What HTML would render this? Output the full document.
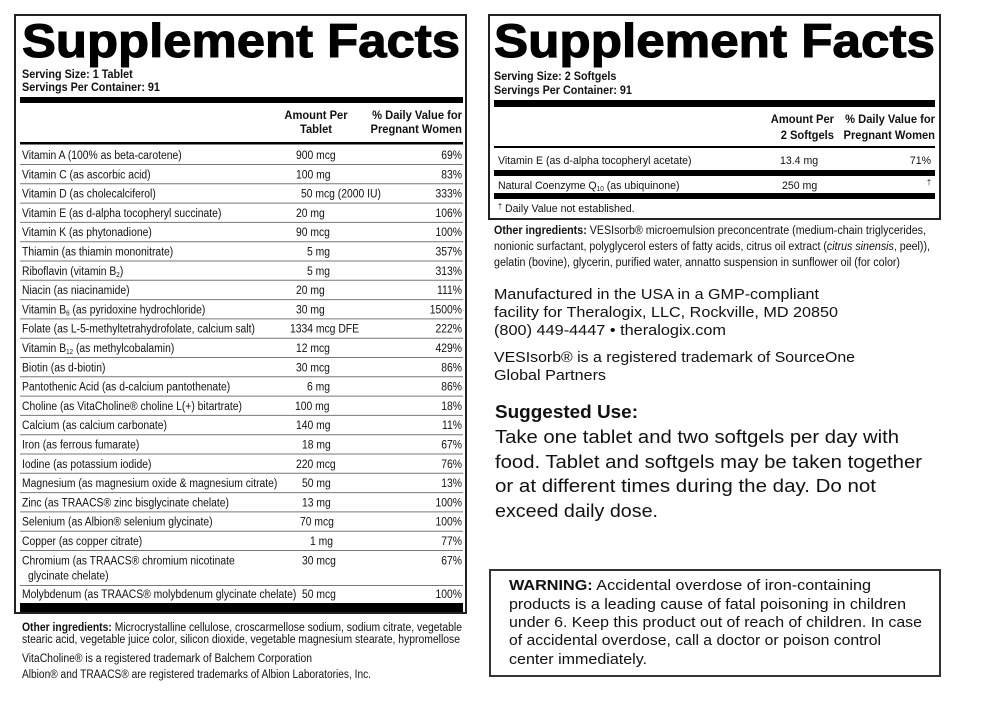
<!DOCTYPE html>
<html><head><meta charset="utf-8"><style>
html,body{margin:0;padding:0;background:#fff}
svg{display:block}
text{font-family:"Liberation Sans",sans-serif;fill:#111}
.r{font-size:11.5px}
.b{font-weight:bold}
.t{font-family:"Liberation Sans",sans-serif;font-weight:900;font-size:47px;fill:#000;stroke:#000;stroke-width:1.1}
.h{font-size:12px;font-weight:bold}
.av{font-family:"DejaVu Sans","Liberation Sans",sans-serif;fill:#1a1a1a}
.ln{stroke:#777;stroke-width:1}
</style></head><body>
<svg width="1000" height="709" viewBox="0 0 1000 709" xmlns="http://www.w3.org/2000/svg">
<rect x="15" y="15" width="451" height="598" fill="none" stroke="#222" stroke-width="2"/>
<text class="t" x="22" y="57" textLength="438" lengthAdjust="spacingAndGlyphs">Supplement Facts</text>
<text class="h" transform="translate(22,78) scale(.9,1)">Serving Size: 1 Tablet</text>
<text class="h" transform="translate(22,91) scale(.9,1)">Servings Per Container: 91</text>
<rect x="20" y="97" width="443" height="6" fill="#000"/>
<text class="h" transform="translate(316,119) scale(.93,1)" text-anchor="middle">Amount Per</text>
<text class="h" transform="translate(316,133) scale(.93,1)" text-anchor="middle">Tablet</text>
<text class="h" transform="translate(462,119) scale(.93,1)" text-anchor="end">% Daily Value for</text>
<text class="h" transform="translate(462,133) scale(.93,1)" text-anchor="end">Pregnant Women</text>
<rect x="20" y="142" width="443" height="2.5" fill="#000"/>
<g class="r">
<text transform="translate(22,159) scale(.9,1)">Vitamin A (100% as beta-carotene)</text><text transform="translate(296,159) scale(.9,1)">900 mcg</text><text transform="translate(462,159) scale(.9,1)" text-anchor="end">69%</text>
<text transform="translate(22,178.3) scale(.9,1)">Vitamin C (as ascorbic acid)</text><text transform="translate(296,178.3) scale(.9,1)">100 mg</text><text transform="translate(462,178.3) scale(.9,1)" text-anchor="end">83%</text>
<text transform="translate(22,197.6) scale(.9,1)">Vitamin D (as cholecalciferol)</text><text transform="translate(301,197.6) scale(.9,1)">50 mcg (2000 IU)</text><text transform="translate(462,197.6) scale(.9,1)" text-anchor="end">333%</text>
<text transform="translate(22,216.9) scale(.9,1)">Vitamin E (as d-alpha tocopheryl succinate)</text><text transform="translate(296,216.9) scale(.9,1)">20 mg</text><text transform="translate(462,216.9) scale(.9,1)" text-anchor="end">106%</text>
<text transform="translate(22,236.2) scale(.9,1)">Vitamin K (as phytonadione)</text><text transform="translate(296,236.2) scale(.9,1)">90 mcg</text><text transform="translate(462,236.2) scale(.9,1)" text-anchor="end">100%</text>
<text transform="translate(22,255.5) scale(.9,1)">Thiamin (as thiamin mononitrate)</text><text transform="translate(307,255.5) scale(.9,1)">5 mg</text><text transform="translate(462,255.5) scale(.9,1)" text-anchor="end">357%</text>
<text transform="translate(22,274.8) scale(.9,1)">Riboflavin (vitamin B<tspan font-size="7" dy="2">2</tspan><tspan dy="-2">)</tspan></text><text transform="translate(307,274.8) scale(.9,1)">5 mg</text><text transform="translate(462,274.8) scale(.9,1)" text-anchor="end">313%</text>
<text transform="translate(22,294.1) scale(.9,1)">Niacin (as niacinamide)</text><text transform="translate(296,294.1) scale(.9,1)">20 mg</text><text transform="translate(462,294.1) scale(.9,1)" text-anchor="end">111%</text>
<text transform="translate(22,313.4) scale(.9,1)">Vitamin B<tspan font-size="7" dy="2">6</tspan><tspan dy="-2"> (as pyridoxine hydrochloride)</tspan></text><text transform="translate(296,313.4) scale(.9,1)">30 mg</text><text transform="translate(462,313.4) scale(.9,1)" text-anchor="end">1500%</text>
<text transform="translate(22,332.7) scale(.9,1)">Folate (as L-5-methyltetrahydrofolate, calcium salt)</text><text transform="translate(290,332.7) scale(.9,1)">1334 mcg DFE</text><text transform="translate(462,332.7) scale(.9,1)" text-anchor="end">222%</text>
<text transform="translate(22,352) scale(.9,1)">Vitamin B<tspan font-size="7" dy="2">12</tspan><tspan dy="-2"> (as methylcobalamin)</tspan></text><text transform="translate(296,352) scale(.9,1)">12 mcg</text><text transform="translate(462,352) scale(.9,1)" text-anchor="end">429%</text>
<text transform="translate(22,371.3) scale(.9,1)">Biotin (as d-biotin)</text><text transform="translate(296,371.3) scale(.9,1)">30 mcg</text><text transform="translate(462,371.3) scale(.9,1)" text-anchor="end">86%</text>
<text transform="translate(22,390.6) scale(.9,1)">Pantothenic Acid (as d-calcium pantothenate)</text><text transform="translate(307,390.6) scale(.9,1)">6 mg</text><text transform="translate(462,390.6) scale(.9,1)" text-anchor="end">86%</text>
<text transform="translate(22,409.9) scale(.9,1)">Choline (as VitaCholine® choline L(+) bitartrate)</text><text transform="translate(295,409.9) scale(.9,1)">100 mg</text><text transform="translate(462,409.9) scale(.9,1)" text-anchor="end">18%</text>
<text transform="translate(22,429.2) scale(.9,1)">Calcium (as calcium carbonate)</text><text transform="translate(296,429.2) scale(.9,1)">140 mg</text><text transform="translate(462,429.2) scale(.9,1)" text-anchor="end">11%</text>
<text transform="translate(22,448.5) scale(.9,1)">Iron (as ferrous fumarate)</text><text transform="translate(302,448.5) scale(.9,1)">18 mg</text><text transform="translate(462,448.5) scale(.9,1)" text-anchor="end">67%</text>
<text transform="translate(22,467.8) scale(.9,1)">Iodine (as potassium iodide)</text><text transform="translate(296,467.8) scale(.9,1)">220 mcg</text><text transform="translate(462,467.8) scale(.9,1)" text-anchor="end">76%</text>
<text transform="translate(22,487.1) scale(.9,1)">Magnesium (as magnesium oxide &amp; magnesium citrate)</text><text transform="translate(302,487.1) scale(.9,1)">50 mg</text><text transform="translate(462,487.1) scale(.9,1)" text-anchor="end">13%</text>
<text transform="translate(22,506.4) scale(.9,1)">Zinc (as TRAACS® zinc bisglycinate chelate)</text><text transform="translate(302,506.4) scale(.9,1)">13 mg</text><text transform="translate(462,506.4) scale(.9,1)" text-anchor="end">100%</text>
<text transform="translate(22,525.7) scale(.9,1)">Selenium (as Albion® selenium glycinate)</text><text transform="translate(300,525.7) scale(.9,1)">70 mcg</text><text transform="translate(462,525.7) scale(.9,1)" text-anchor="end">100%</text>
<text transform="translate(22,545) scale(.9,1)">Copper (as copper citrate)</text><text transform="translate(310,545) scale(.9,1)">1 mg</text><text transform="translate(462,545) scale(.9,1)" text-anchor="end">77%</text>
<text transform="translate(22,564.5) scale(.9,1)">Chromium (as TRAACS® chromium nicotinate</text><text transform="translate(28,579.5) scale(.9,1)">glycinate chelate)</text><text transform="translate(302,564.5) scale(.9,1)">30 mcg</text><text transform="translate(462,564.5) scale(.9,1)" text-anchor="end">67%</text>
<text transform="translate(22,598) scale(.9,1)">Molybdenum (as TRAACS® molybdenum glycinate chelate)</text><text transform="translate(302,598) scale(.9,1)">50 mcg</text><text transform="translate(462,598) scale(.9,1)" text-anchor="end">100%</text>
</g>
<g class="ln">
<line x1="20" x2="463" y1="164.5" y2="164.5"/><line x1="20" x2="463" y1="183.8" y2="183.8"/><line x1="20" x2="463" y1="203.1" y2="203.1"/><line x1="20" x2="463" y1="222.4" y2="222.4"/><line x1="20" x2="463" y1="241.7" y2="241.7"/><line x1="20" x2="463" y1="261" y2="261"/><line x1="20" x2="463" y1="280.3" y2="280.3"/><line x1="20" x2="463" y1="299.6" y2="299.6"/><line x1="20" x2="463" y1="318.9" y2="318.9"/><line x1="20" x2="463" y1="338.2" y2="338.2"/><line x1="20" x2="463" y1="357.5" y2="357.5"/><line x1="20" x2="463" y1="376.8" y2="376.8"/><line x1="20" x2="463" y1="396.1" y2="396.1"/><line x1="20" x2="463" y1="415.4" y2="415.4"/><line x1="20" x2="463" y1="434.7" y2="434.7"/><line x1="20" x2="463" y1="454" y2="454"/><line x1="20" x2="463" y1="473.3" y2="473.3"/><line x1="20" x2="463" y1="492.6" y2="492.6"/><line x1="20" x2="463" y1="511.9" y2="511.9"/><line x1="20" x2="463" y1="531.2" y2="531.2"/><line x1="20" x2="463" y1="550.5" y2="550.5"/><line x1="20" x2="463" y1="585.5" y2="585.5"/>
</g>
<rect x="20" y="603" width="443" height="9" fill="#000"/>
<g class="r">
<text x="22" y="631" textLength="440" lengthAdjust="spacingAndGlyphs"><tspan font-weight="bold">Other ingredients:</tspan> Microcrystalline cellulose, croscarmellose sodium, sodium citrate, vegetable</text>
<text x="22" y="643" textLength="438" lengthAdjust="spacingAndGlyphs">stearic acid, vegetable juice color, silicon dioxide, vegetable magnesium stearate, hypromellose</text>
<text x="22" y="662" textLength="290" lengthAdjust="spacingAndGlyphs">VitaCholine® is a registered trademark of Balchem Corporation</text>
<text x="22" y="678" textLength="349" lengthAdjust="spacingAndGlyphs">Albion® and TRAACS® are registered trademarks of Albion Laboratories, Inc.</text>
</g>

<rect x="489" y="15" width="451" height="204" fill="none" stroke="#222" stroke-width="2"/>
<text class="t" x="494" y="57" textLength="441" lengthAdjust="spacingAndGlyphs">Supplement Facts</text>
<text class="h" transform="translate(494,80) scale(.9,1)">Serving Size: 2 Softgels</text>
<text class="h" transform="translate(494,94) scale(.9,1)">Servings Per Container: 91</text>
<rect x="494" y="100" width="441" height="7" fill="#000"/>
<text class="h" transform="translate(834,123) scale(.93,1)" text-anchor="end">Amount Per</text>
<text class="h" transform="translate(834,139) scale(.93,1)" text-anchor="end">2 Softgels</text>
<text class="h" transform="translate(935,123) scale(.93,1)" text-anchor="end">% Daily Value for</text>
<text class="h" transform="translate(935,139) scale(.93,1)" text-anchor="end">Pregnant Women</text>
<rect x="494" y="146" width="441" height="2" fill="#000"/>
<g class="r">
<text transform="translate(498,164) scale(.92,1)">Vitamin E (as d-alpha tocopheryl acetate)</text><text transform="translate(780,164) scale(.92,1)">13.4 mg</text><text transform="translate(931,164) scale(.92,1)" text-anchor="end">71%</text>
<text transform="translate(498,189) scale(.92,1)">Natural Coenzyme Q<tspan font-size="7" dy="2">10</tspan><tspan dy="-2"> (as ubiquinone)</tspan></text><text transform="translate(782,189) scale(.92,1)">250 mg</text><text transform="translate(931,185) scale(.9,1)" text-anchor="end" font-size="8">†</text>
<text transform="translate(498,212) scale(.92,1)"><tspan font-size="8" dy="-3">†</tspan><tspan dy="3"> Daily Value not established.</tspan></text>
</g>
<rect x="494" y="170" width="441" height="6" fill="#000"/>
<rect x="494" y="193" width="441" height="6" fill="#000"/>
<g class="r">
<text x="494" y="234" textLength="432" lengthAdjust="spacingAndGlyphs"><tspan font-weight="bold">Other ingredients:</tspan> VESIsorb® microemulsion preconcentrate (medium-chain triglycerides,</text>
<text x="494" y="250" textLength="436" lengthAdjust="spacingAndGlyphs">nonionic surfactant, polyglycerol esters of fatty acids, citrus oil extract (<tspan font-style="italic">citrus sinensis</tspan>, peel)),</text>
<text x="494" y="266" textLength="406" lengthAdjust="spacingAndGlyphs">gelatin (bovine), glycerin, purified water, annatto suspension in sunflower oil (for color)</text>
</g>
<g class="av" font-size="14.5">
<text x="494" y="299" textLength="325" lengthAdjust="spacingAndGlyphs">Manufactured in the USA in a GMP-compliant</text>
<text x="494" y="317" textLength="344" lengthAdjust="spacingAndGlyphs">facility for Theralogix, LLC, Rockville, MD 20850</text>
<text x="494" y="335" textLength="232" lengthAdjust="spacingAndGlyphs">(800) 449-4447 • theralogix.com</text>
<text x="494" y="362" textLength="361" lengthAdjust="spacingAndGlyphs">VESIsorb® is a registered trademark of SourceOne</text>
<text x="494" y="380" textLength="112" lengthAdjust="spacingAndGlyphs">Global Partners</text>
</g>
<g class="av" font-size="18.5">
<text x="495" y="418" font-weight="bold" textLength="143" lengthAdjust="spacingAndGlyphs">Suggested Use:</text>
<text x="495" y="443" textLength="404" lengthAdjust="spacingAndGlyphs">Take one tablet and two softgels per day with</text>
<text x="495" y="468" textLength="427" lengthAdjust="spacingAndGlyphs">food. Tablet and softgels may be taken together</text>
<text x="495" y="492" textLength="381" lengthAdjust="spacingAndGlyphs">or at different times during the day. Do not</text>
<text x="495" y="517" textLength="163" lengthAdjust="spacingAndGlyphs">exceed daily dose.</text>
</g>

<rect x="490" y="570" width="450" height="106" fill="none" stroke="#333" stroke-width="2"/>
<g class="av" font-size="14.5">
<text x="509" y="590" textLength="362" lengthAdjust="spacingAndGlyphs"><tspan font-weight="bold">WARNING:</tspan> Accidental overdose of iron-containing</text>
<text x="509" y="609" textLength="397" lengthAdjust="spacingAndGlyphs">products is a leading cause of fatal poisoning in children</text>
<text x="509" y="627" textLength="413" lengthAdjust="spacingAndGlyphs">under 6. Keep this product out of reach of children. In case</text>
<text x="509" y="645" textLength="372" lengthAdjust="spacingAndGlyphs">of accidental overdose, call a doctor or poison control</text>
<text x="509" y="664" textLength="138" lengthAdjust="spacingAndGlyphs">center immediately.</text>
</g>
</svg>
</body></html>
